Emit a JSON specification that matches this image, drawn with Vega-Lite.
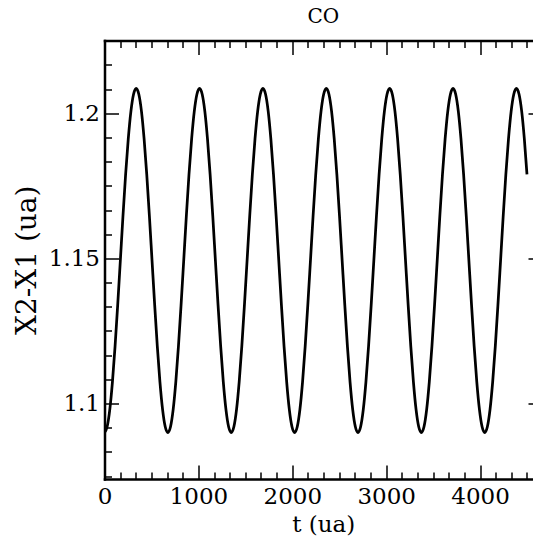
{
  "$schema": "https://vega.github.io/schema/vega-lite/v6.json",
  "autosize": "none",
  "padding": {"left": 104.5, "top": 40.5, "right": -9, "bottom": 61},
  "width": 437.5,
  "height": 438.5,
  "title": {"text": "CO", "font": "DejaVu Serif", "fontSize": 20, "fontWeight": "normal", "color": "black", "offset": 13},
  "data": {"values": [
    {"t":0,"y":1.0900},{"t":28.1,"y":1.0920},{"t":56.3,"y":1.0979},{"t":84.4,"y":1.1074},{"t":112.5,"y":1.1197},{"t":140.6,"y":1.1340},{"t":168.8,"y":1.1493},{"t":196.9,"y":1.1647},{"t":225,"y":1.1790},{"t":253.1,"y":1.1912},{"t":281.3,"y":1.2007},{"t":309.4,"y":1.2066},{"t":337.5,"y":1.2086},{"t":365.6,"y":1.2066},{"t":393.8,"y":1.2007},{"t":421.9,"y":1.1912},{"t":450,"y":1.1790},{"t":478.1,"y":1.1647},{"t":506.3,"y":1.1493},{"t":534.4,"y":1.1340},{"t":562.5,"y":1.1197},{"t":590.6,"y":1.1074},{"t":618.8,"y":1.0979},{"t":646.9,"y":1.0920},
    {"t":675,"y":1.0900},{"t":703.1,"y":1.0920},{"t":731.3,"y":1.0979},{"t":759.4,"y":1.1074},{"t":787.5,"y":1.1197},{"t":815.6,"y":1.1340},{"t":843.8,"y":1.1493},{"t":871.9,"y":1.1647},{"t":900,"y":1.1790},{"t":928.1,"y":1.1912},{"t":956.3,"y":1.2007},{"t":984.4,"y":1.2066},{"t":1012.5,"y":1.2086},{"t":1040.6,"y":1.2066},{"t":1068.8,"y":1.2007},{"t":1096.9,"y":1.1912},{"t":1125,"y":1.1790},{"t":1153.1,"y":1.1647},{"t":1181.3,"y":1.1493},{"t":1209.4,"y":1.1340},{"t":1237.5,"y":1.1197},{"t":1265.6,"y":1.1074},{"t":1293.8,"y":1.0979},{"t":1321.9,"y":1.0920},
    {"t":1350,"y":1.0900},{"t":1378.1,"y":1.0920},{"t":1406.3,"y":1.0979},{"t":1434.4,"y":1.1074},{"t":1462.5,"y":1.1197},{"t":1490.6,"y":1.1340},{"t":1518.8,"y":1.1493},{"t":1546.9,"y":1.1647},{"t":1575,"y":1.1790},{"t":1603.1,"y":1.1912},{"t":1631.3,"y":1.2007},{"t":1659.4,"y":1.2066},{"t":1687.5,"y":1.2086},{"t":1715.6,"y":1.2066},{"t":1743.8,"y":1.2007},{"t":1771.9,"y":1.1912},{"t":1800,"y":1.1790},{"t":1828.1,"y":1.1647},{"t":1856.3,"y":1.1493},{"t":1884.4,"y":1.1340},{"t":1912.5,"y":1.1197},{"t":1940.6,"y":1.1074},{"t":1968.8,"y":1.0979},{"t":1996.9,"y":1.0920},
    {"t":2025,"y":1.0900},{"t":2053.1,"y":1.0920},{"t":2081.3,"y":1.0979},{"t":2109.4,"y":1.1074},{"t":2137.5,"y":1.1197},{"t":2165.6,"y":1.1340},{"t":2193.8,"y":1.1493},{"t":2221.9,"y":1.1647},{"t":2250,"y":1.1790},{"t":2278.1,"y":1.1912},{"t":2306.3,"y":1.2007},{"t":2334.4,"y":1.2066},{"t":2362.5,"y":1.2086},{"t":2390.6,"y":1.2066},{"t":2418.8,"y":1.2007},{"t":2446.9,"y":1.1912},{"t":2475,"y":1.1790},{"t":2503.1,"y":1.1647},{"t":2531.3,"y":1.1493},{"t":2559.4,"y":1.1340},{"t":2587.5,"y":1.1197},{"t":2615.6,"y":1.1074},{"t":2643.8,"y":1.0979},{"t":2671.9,"y":1.0920},
    {"t":2700,"y":1.0900},{"t":2728.1,"y":1.0920},{"t":2756.3,"y":1.0979},{"t":2784.4,"y":1.1074},{"t":2812.5,"y":1.1197},{"t":2840.6,"y":1.1340},{"t":2868.8,"y":1.1493},{"t":2896.9,"y":1.1647},{"t":2925,"y":1.1790},{"t":2953.1,"y":1.1912},{"t":2981.3,"y":1.2007},{"t":3009.4,"y":1.2066},{"t":3037.5,"y":1.2086},{"t":3065.6,"y":1.2066},{"t":3093.8,"y":1.2007},{"t":3121.9,"y":1.1912},{"t":3150,"y":1.1790},{"t":3178.1,"y":1.1647},{"t":3206.3,"y":1.1493},{"t":3234.4,"y":1.1340},{"t":3262.5,"y":1.1197},{"t":3290.6,"y":1.1074},{"t":3318.8,"y":1.0979},{"t":3346.9,"y":1.0920},
    {"t":3375,"y":1.0900},{"t":3403.1,"y":1.0920},{"t":3431.3,"y":1.0979},{"t":3459.4,"y":1.1074},{"t":3487.5,"y":1.1197},{"t":3515.6,"y":1.1340},{"t":3543.8,"y":1.1493},{"t":3571.9,"y":1.1647},{"t":3600,"y":1.1790},{"t":3628.1,"y":1.1912},{"t":3656.3,"y":1.2007},{"t":3684.4,"y":1.2066},{"t":3712.5,"y":1.2086},{"t":3740.6,"y":1.2066},{"t":3768.8,"y":1.2007},{"t":3796.9,"y":1.1912},{"t":3825,"y":1.1790},{"t":3853.1,"y":1.1647},{"t":3881.3,"y":1.1493},{"t":3909.4,"y":1.1340},{"t":3937.5,"y":1.1197},{"t":3965.6,"y":1.1074},{"t":3993.8,"y":1.0979},{"t":4021.9,"y":1.0920},
    {"t":4050,"y":1.0900},{"t":4078.1,"y":1.0920},{"t":4106.3,"y":1.0979},{"t":4134.4,"y":1.1074},{"t":4162.5,"y":1.1197},{"t":4190.6,"y":1.1340},{"t":4218.8,"y":1.1493},{"t":4246.9,"y":1.1647},{"t":4275,"y":1.1790},{"t":4303.1,"y":1.1912},{"t":4331.3,"y":1.2007},{"t":4359.4,"y":1.2066},{"t":4387.5,"y":1.2086},{"t":4415.6,"y":1.2066},{"t":4443.8,"y":1.2007},{"t":4471.9,"y":1.1912},{"t":4500,"y":1.1790}
  ]},
  "resolve": {"axis": {"x": "independent", "y": "independent"}},
  "layer": [
    {
      "mark": {"type": "line", "color": "black", "strokeWidth": 2.75, "interpolate": "monotone", "clip": true},
      "encoding": {
        "x": {"field": "t", "type": "quantitative", "scale": {"domain": [0, 4660], "nice": false, "zero": false},
          "axis": {"orient": "bottom", "values": [0, 1000, 2000, 3000, 4000], "format": "d", "ticks": false, "domain": true, "title": "t (ua)", "labelPadding": 6, "titlePadding": 5, "labelFont": "DejaVu Serif", "labelFontSize": 23, "titleFont": "DejaVu Serif", "titleFontSize": 23}},
        "y": {"field": "y", "type": "quantitative", "scale": {"domain": [1.074, 1.2251], "nice": false, "zero": false},
          "axis": {"orient": "left", "values": [1.1, 1.15, 1.2], "format": "~g", "ticks": false, "domain": true, "title": "X2-X1 (ua)", "labelPadding": 5, "titlePadding": 7, "labelFont": "DejaVu Serif", "labelFontSize": 23, "titleFont": "DejaVu Serif", "titleFontSize": 28}}
      }
    },
    {
      "mark": {"type": "line", "strokeOpacity": 0},
      "encoding": {
        "x": {"field": "t", "type": "quantitative", "scale": {"domain": [0, 4660], "nice": false, "zero": false},
          "axis": {"orient": "bottom", "values": [0, 1000, 2000, 3000, 4000], "labels": false, "domain": false, "tickSize": -14, "title": null}},
        "y": {"field": "y", "type": "quantitative", "scale": {"domain": [1.074, 1.2251], "nice": false, "zero": false},
          "axis": {"orient": "left", "values": [1.1, 1.15, 1.2], "labels": false, "domain": false, "tickSize": -14, "title": null}}
      }
    },
    {
      "mark": {"type": "line", "strokeOpacity": 0},
      "encoding": {
        "x": {"field": "t", "type": "quantitative", "scale": {"domain": [0, 4660], "nice": false, "zero": false},
          "axis": {"orient": "bottom", "values": [166.667, 333.333, 500, 666.667, 833.333, 1166.667, 1333.333, 1500, 1666.667, 1833.333, 2166.667, 2333.333, 2500, 2666.667, 2833.333, 3166.667, 3333.333, 3500, 3666.667, 3833.333, 4166.667, 4333.333, 4500], "labels": false, "domain": false, "tickSize": -7, "title": null}},
        "y": {"field": "y", "type": "quantitative", "scale": {"domain": [1.074, 1.2251], "nice": false, "zero": false},
          "axis": {"orient": "left", "values": [1.075, 1.083333, 1.091667, 1.108333, 1.116667, 1.125, 1.133333, 1.141667, 1.158333, 1.166667, 1.175, 1.183333, 1.191667, 1.208333, 1.216667, 1.225], "labels": false, "domain": false, "tickSize": -7, "title": null}}
      }
    },
    {
      "mark": {"type": "line", "strokeOpacity": 0},
      "encoding": {
        "x": {"field": "t", "type": "quantitative", "scale": {"domain": [0, 4660], "nice": false, "zero": false},
          "axis": {"orient": "top", "values": [0, 1000, 2000, 3000, 4000], "labels": false, "domain": true, "tickSize": -14, "title": null}},
        "y": {"field": "y", "type": "quantitative", "scale": {"domain": [1.074, 1.2251], "nice": false, "zero": false},
          "axis": {"orient": "right", "values": [1.1, 1.15, 1.2], "labels": false, "domain": true, "tickSize": -14, "title": null}}
      }
    },
    {
      "mark": {"type": "line", "strokeOpacity": 0},
      "encoding": {
        "x": {"field": "t", "type": "quantitative", "scale": {"domain": [0, 4660], "nice": false, "zero": false},
          "axis": {"orient": "top", "values": [166.667, 333.333, 500, 666.667, 833.333, 1166.667, 1333.333, 1500, 1666.667, 1833.333, 2166.667, 2333.333, 2500, 2666.667, 2833.333, 3166.667, 3333.333, 3500, 3666.667, 3833.333, 4166.667, 4333.333, 4500], "labels": false, "domain": false, "tickSize": -7, "title": null}},
        "y": {"field": "y", "type": "quantitative", "scale": {"domain": [1.074, 1.2251], "nice": false, "zero": false},
          "axis": {"orient": "right", "values": [1.075, 1.083333, 1.091667, 1.108333, 1.116667, 1.125, 1.133333, 1.141667, 1.158333, 1.166667, 1.175, 1.183333, 1.191667, 1.208333, 1.216667, 1.225], "labels": false, "domain": false, "tickSize": -7, "title": null}}
      }
    }
  ],
  "config": {
    "view": {"stroke": null},
    "axis": {"domainColor": "black", "domainWidth": 2.5, "domainCap": "square", "tickColor": "black", "tickWidth": 1.5, "labelColor": "black", "titleFontWeight": "normal", "titleColor": "black", "grid": false, "labelFlush": false, "labelOverlap": false}
  }
}
